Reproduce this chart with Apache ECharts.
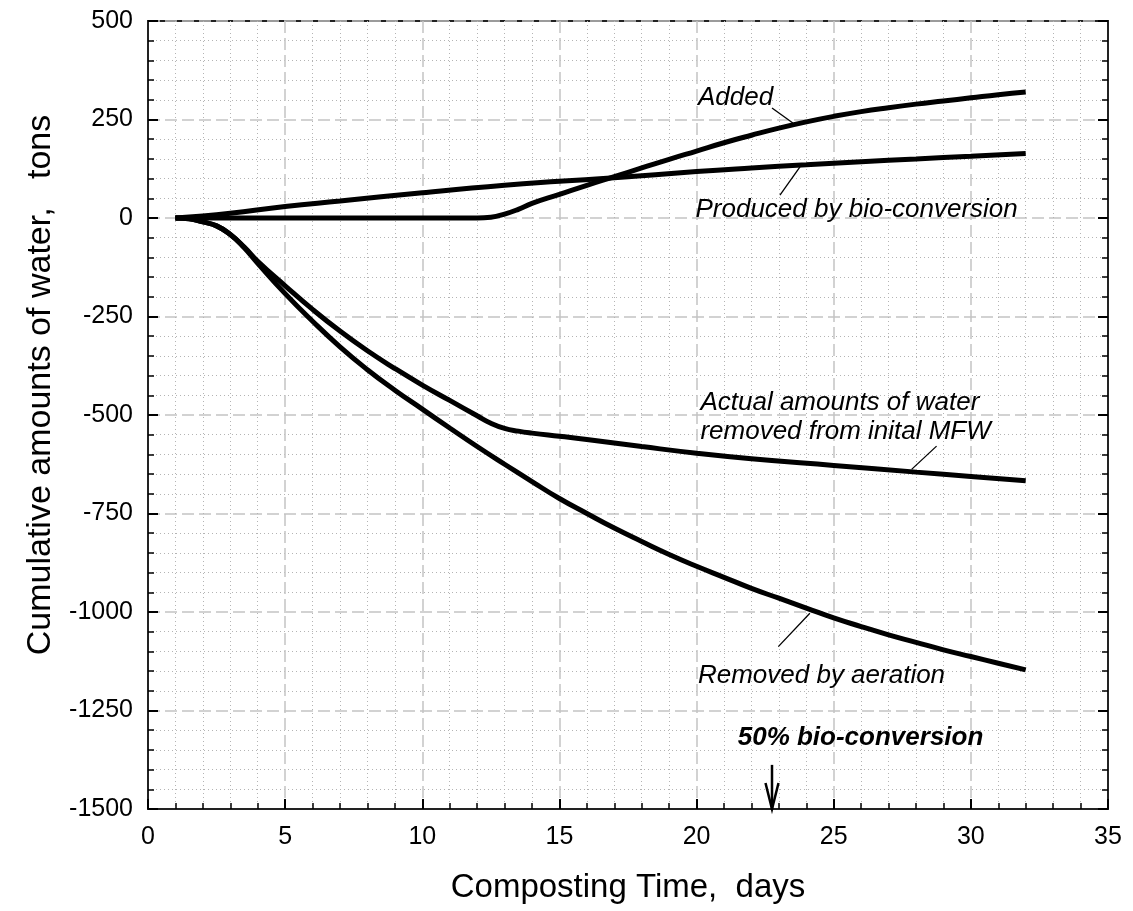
<!DOCTYPE html>
<html><head><meta charset="utf-8">
<script src="https://cdn.jsdelivr.net/npm/echarts@6/dist/echarts.min.js"></script>
<style>html,body{margin:0;padding:0;background:#fff}#c{width:1133px;height:911px}</style>
</head><body><div id="c"></div>
<script>
// ---- data ----
const producedX = [1,2,3,5,7,10,13,15,17,20,22,24,26,28,30,32];
const producedY = [0,5,12,29,43,64,83,93,102,118,127,135,143,150,157,164];

const addedX = [1,12,12.5,13,13.5,14,15,16,17,18,19,20,21,22,23,24,25,26,27,28,29,30,31,32];
const addedY = [0,0,2,10,22,37,60,83,105,127,149,170,191,210,228,244,258,270,280,289,297,305,313,320];

const actualX = [1,1.5,2,2.5,3,3.5,4,5,6,7,8,9,10,11,12,12.5,13,13.5,14,15,16,18,20,22,25,28,30,32];
const actualY = [0,-2,-10,-20,-42,-73,-110,-172,-232,-287,-337,-382,-424,-463,-502,-521,-534,-541,-546,-554,-562,-580,-597,-611,-628,-645,-656,-667];

const aerationX = [1,1.5,2,2.5,3,3.5,4,5,6,7,8,9,10,11,12,13,14,15,16,17,18,19,20,21,22,23,24,25,26,27,28,29,30,31,32];
const aerationY = [0,-2,-10,-20,-42,-75,-115,-192,-262,-327,-385,-437,-485,-533,-580,-625,-669,-712,-750,-787,-821,-854,-884,-912,-940,-965,-990,-1015,-1037,-1058,-1077,-1096,-1113,-1130,-1147];

const xMin = 0, xMax = 35, xStep = 5;
const yMin = -1500, yMax = 500, yStep = 250;

const xTitle = 'Composting Time,  days';
const yTitle = 'Cumulative amounts of water,   tons';

// annotations (data coordinates)
const notes = [
  {lines: ['Added'], x: 20.05, y: [305], leader: [[22.75, 279], [23.51, 241]]},
  {lines: ['Produced by bio-conversion'], x: 19.96, y: [21], leader: [[23.04, 58], [23.77, 130]]},
  {lines: ['Actual amounts of water', 'removed from inital MFW'], x: 20.14, y: [-468, -543], leader: [[28.75, -579], [27.84, -638]]},
  {lines: ['Removed by aeration'], x: 20.05, y: [-1162], leader: [[22.98, -1088], [24.13, -1003]]}
];
const markerText = '50% bio-conversion';
const markerTextPos = [21.5, -1320];
const markerArrow = {x: 22.75, top: -1388, tip: -1500};

// ---- chart ----
const FONT = '"Liberation Sans", Arial, Helvetica, sans-serif';
const zip = (xs, ys) => xs.map((x, i) => [x, ys[i]]);

const chart = echarts.init(document.getElementById('c'), null, {renderer: 'canvas'});

const lineSeries = (name, xs, ys) => ({
  name, type: 'line', data: zip(xs, ys), showSymbol: false, smooth: 0.5,
  lineStyle: {color: '#000', width: 5}, xAxisIndex: 0, yAxisIndex: 0, z: 5, animation: false
});

const commonAxis = {
  axisLine: {show: true, onZero: false, lineStyle: {color: '#222', width: 2}},
  axisTick: {show: true, inside: true, length: 10, lineStyle: {color: '#000', width: 2}},
  minorTick: {show: true, splitNumber: 5, length: 6, lineStyle: {color: '#000', width: 1.5}},
};
const plain = v => String(v);

chart.setOption({
  animation: false,
  backgroundColor: '#fff',
  grid: {left: 148, right: 25, top: 21, bottom: 102, show: true, borderColor: '#222', borderWidth: 2, backgroundColor: 'transparent'},
  xAxis: [{
    type: 'value', min: xMin, max: xMax, interval: xStep, ...commonAxis,
    axisLabel: {color: '#000', fontSize: 25, fontFamily: FONT, margin: 16, formatter: plain},
    splitLine: {show: true, lineStyle: {color: '#c4c4c4', width: 1.5, type: [12, 5]}},
    minorSplitLine: {show: true, lineStyle: {color: '#b4b4b4', width: 1, type: [1, 3]}},
    name: xTitle, nameLocation: 'middle', nameGap: 62,
    nameTextStyle: {color: '#000', fontSize: 33, fontFamily: FONT}
  }],
  yAxis: [{
    type: 'value', min: yMin, max: yMax, interval: yStep, ...commonAxis,
    axisLabel: {color: '#000', fontSize: 25, fontFamily: FONT, margin: 15, formatter: plain},
    splitLine: {show: true, lineStyle: {color: '#c4c4c4', width: 1.5, type: [12, 5]}},
    minorSplitLine: {show: true, lineStyle: {color: '#b4b4b4', width: 1, type: [1, 3]}},
    name: yTitle, nameLocation: 'middle', nameGap: 90,
    nameTextStyle: {color: '#000', fontSize: 34, fontFamily: FONT, padding: [0, 0, 0, 60]}
  }, {
    type: 'value', min: yMin, max: yMax, interval: yStep, position: 'right', ...commonAxis,
    axisLabel: {show: false}, splitLine: {show: false}
  }],
  series: [
    lineSeries('Added', addedX, addedY),
    lineSeries('Produced by bio-conversion', producedX, producedY),
    lineSeries('Actual amounts of water removed from inital MFW', actualX, actualY),
    lineSeries('Removed by aeration', aerationX, aerationY)
  ]
});

function px(p) { return chart.convertToPixel({xAxisIndex: 0, yAxisIndex: 0}, p); }

const g = [];
notes.forEach(n => {
  n.lines.forEach((t, i) => {
    const p = px([n.x, n.y[i]]);
    g.push({type: 'text', x: p[0], y: p[1], z: 20,
      style: {text: t, font: 'italic 26px ' + FONT, fill: '#000', align: 'left', verticalAlign: 'middle'}});
  });
  const a = px(n.leader[0]), b = px(n.leader[1]);
  g.push({type: 'line', z: 20, shape: {x1: a[0], y1: a[1], x2: b[0], y2: b[1]}, style: {stroke: '#000', lineWidth: 1.3}});
});
const mt = px(markerTextPos);
g.push({type: 'text', x: mt[0], y: mt[1], z: 20,
  style: {text: markerText, font: 'italic bold 26px ' + FONT, fill: '#000', align: 'left', verticalAlign: 'middle'}});
const at = px([markerArrow.x, markerArrow.top]), ab = px([markerArrow.x, markerArrow.tip]);
g.push({type: 'line', z: 20, shape: {x1: at[0], y1: at[1], x2: ab[0], y2: ab[1]}, style: {stroke: '#000', lineWidth: 2.5}});
g.push({type: 'polyline', z: 20, shape: {points: [[ab[0] - 6.5, ab[1] - 26], [ab[0], ab[1]], [ab[0] + 6.5, ab[1] - 26]]},
  style: {stroke: '#000', lineWidth: 2.5, fill: 'none'}});
chart.setOption({graphic: g});
</script>
</body></html>
